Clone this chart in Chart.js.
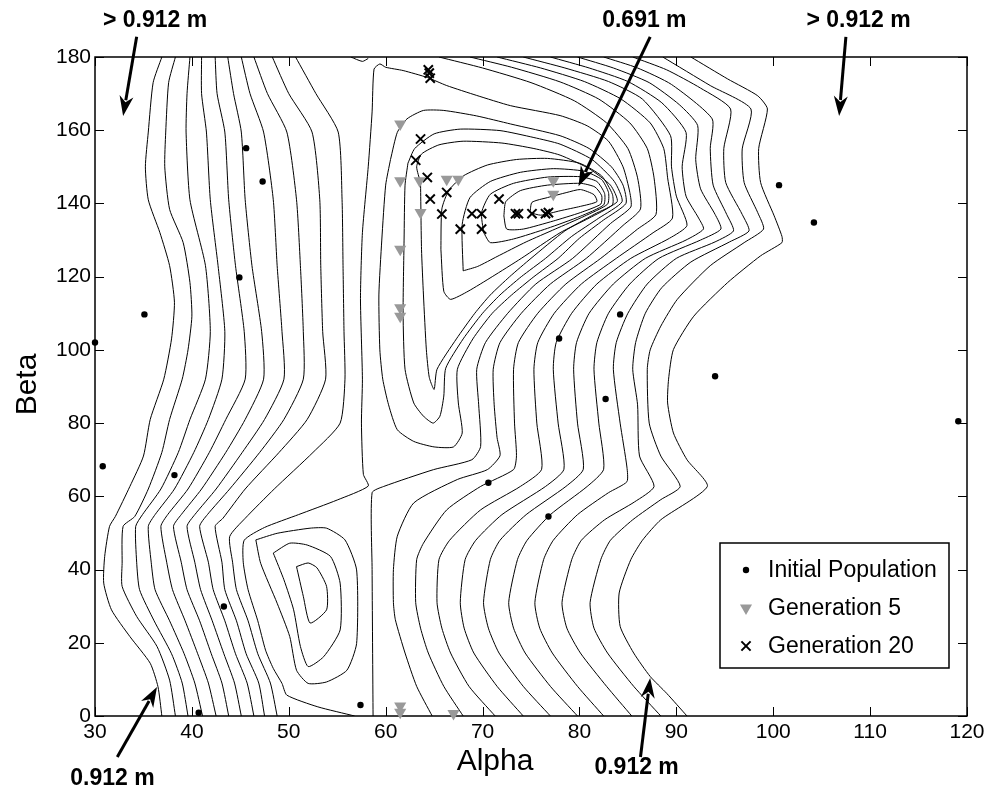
<!DOCTYPE html>
<html>
<head>
<meta charset="utf-8">
<script src="https://cdn.jsdelivr.net/npm/chart.js@4.4.1/dist/chart.umd.min.js"></script>
<style>
  html, body { margin: 0; padding: 0; background: #fff; }
</style>
</head>
<body>
<canvas id="contourChart" width="1003" height="795"></canvas>
<script>
const xTicks = [30, 40, 50, 60, 70, 80, 90, 100, 110, 120];
const yTicks = [0, 20, 40, 60, 80, 100, 120, 140, 160, 180];

// markers
const initialPopulation = [[45.6,155.1],[47.3,146],[44.9,119.8],[35.1,109.7],[30,102],[30.8,68.2],[38.2,65.8],[43.3,29.9],[40.7,0.9],[57.4,3],[82.7,86.6],[70.6,63.7],[76.8,54.5],[84.2,109.7],[77.9,103.1],[100.6,145],[104.2,134.8],[94,92.8],[119.1,80.5]];
const generation5 = [[61.5,161.7],[61.5,146.2],[63.5,146.2],[66.3,146.6],[67.5,146.6],[63.6,137.5],[61.5,127.5],[61.5,111.5],[61.5,109.2],[77.3,146.2],[77.3,142.5],[61.5,2.7],[61.5,1.0],[67,0.7]];
const generation20 = [[64.4,176.5],[64.5,175.6],[64.6,174.2],[63.6,157.6],[63.1,151.8],[64.3,147.1],[64.6,141.2],[66.3,143],[65.8,137.1],[67.7,133],[68.9,137.2],[69.9,137.2],[69.9,133],[71.7,141.2],[73.4,137.2],[73.7,137.2],[75.1,137.2],[76.5,137.2],[76.8,137.5]];

// contour lines, left family
const leftA = [[36.9,180],[36.0,173],[35.5,159.5],[35.2,150],[35.5,141],[36.7,132],[37.7,123],[38.2,113],[37.9,103],[37.1,92],[35.7,81],[35.0,71],[33.6,62.7],[32.1,54.5],[31.5,51.8],[31.0,43.6],[30.9,36.3],[31.7,29],[33.6,21.7],[35.7,14.4],[36.5,8],[36.9,0]];
const leftB = [[38.3,180],[37.6,173],[37.3,159.5],[37.2,150],[37.7,138.4],[39.1,129.3],[39.8,118.4],[40.0,109.2],[39.6,100],[39.0,92],[37.7,81],[36.9,72],[35.5,62],[34.1,54.5],[32.9,51.8],[32.8,41.7],[32.8,35.4],[34.3,27.2],[36.4,19],[37.7,9.8],[38.3,0]];
const leftC = [[39.8,180],[39.5,170],[39.4,159.5],[39.8,141],[41.4,123],[41.9,105],[41.4,92],[39.8,81],[38.6,72],[36.8,62],[34.9,55],[34.2,51.8],[34.3,42],[34.6,34.5],[36.1,26],[37.9,17],[39.0,9],[39.6,0]];
const leftD = [[41.0,180],[41.0,170],[41.5,159.5],[41.9,141],[42.7,123],[43.4,105],[43.1,92],[41.7,81],[40.2,72],[38.2,62],[36.2,55],[35.5,51.8],[35.8,42],[36.2,34.5],[37.7,26],[39.2,17],[40.3,9],[41.1,0]];
const leftE = [[42.4,180],[42.6,170],[43.4,159.5],[43.8,141],[44.5,123],[45.4,105],[45.5,92],[43.5,81],[41.8,72],[39.6,62],[37.5,55],[36.8,51.8],[37.4,42],[38.0,34.5],[39.3,26],[40.6,17],[41.7,9],[42.5,0]];
const leftF = [[43.7,180],[44.3,170],[45.1,159.5],[45.5,141],[46.2,123],[47.2,105],[47.4,92],[45.5,81],[43.5,72],[41.0,62],[38.9,55],[38.1,51.8],[38.9,42],[39.5,34.5],[40.8,26],[42.0,17],[43.1,9],[43.8,0]];
const leftG = [[45.1,180],[46.0,170],[47.4,159.5],[48.4,141],[48.8,123],[49.3,105],[49.5,92],[47.5,81],[45.2,72],[42.5,62],[40.3,55],[39.5,51.8],[40.3,42],[40.9,34.5],[42.1,26],[43.3,17],[44.4,9],[45.1,0]];
const leftH = [[46.4,180],[47.8,170],[49.8,159.5],[50.8,141],[51.2,123],[51.5,105],[51.5,92],[49.5,81],[47.0,72],[43.9,62],[41.6,55],[40.8,51.8],[41.7,42],[42.2,34.5],[43.4,26],[44.5,17],[45.7,9],[46.4,0]];
const leftI = [[48.3,180],[50.0,170],[52.4,159.5],[53.2,141],[53.3,123],[53.5,105],[53.8,92],[51.9,81],[49.0,72],[45.5,62],[43.2,54],[42.4,51.8],[43.1,42],[43.4,34.5],[44.6,26],[45.6,17],[46.9,9],[47.5,0]];
const leftJ = [[50.7,180],[52.8,170],[55.1,159.5],[55.5,141],[55.6,123],[55.7,105],[55.8,92],[55.3,80],[52.5,72],[48.5,62],[45.5,54],[43.9,49],[44.2,42],[44.6,34.5],[45.8,26],[46.8,17],[48.1,9],[48.8,0]];
const topWedge = [[56.4,180],[57.6,178.8],[58.2,179.6]];

// loops round the small minimum near (52, 32)
const lowLoop1 = [[50.8,40.8],[52.0,41.8],[52.9,40.5],[53.9,35.4],[53.9,29],[52.2,25.4],[51.5,32.7],[50.8,40.8]];
const lowLoop2 = [[48.4,44.5],[50.1,47.2],[51.9,46.7],[54.3,43.6],[55.3,36.3],[55.3,23.5],[53.6,16.2],[52.0,13.5],[51.2,19],[50.5,29],[49.5,37.2],[48.4,44.5]];
const lowLoop3 = [[46.6,48.1],[48.8,49.9],[52.2,51.3],[53.9,51.3],[55.8,48.1],[57.0,39.9],[57.0,19.8],[56.0,12.5],[53.9,9.3],[52.0,8.9],[50.8,12.5],[50.1,21.7],[48.8,30.8],[47.1,41.7],[46.6,48.1]];

// saddle contour
const saddle = [[56.8,0],[53,2.5],[49.8,5.7],[49.3,8.9],[48.4,13],[47.6,18],[46.8,26],[45.8,34.5],[45.3,42],[45.4,48],[47.5,51.5],[51,55],[55,59],[58.2,62.8],[57.7,66],[57.5,80],[57.6,92],[57.4,114],[57.6,132],[58.2,150],[58.6,165],[58.8,176.7],[59.4,178.1],[60.0,177.2],[61.8,176.3],[64.3,174.4],[66.3,172.2],[69.4,169.5],[72.9,166.7],[78.0,164],[80.8,161.2],[83.0,157],[84.5,150],[85.2,143],[85.3,139],[83.2,134.5],[79.3,125],[75.5,118],[72.6,110],[70.3,102],[69.4,94.7],[69.6,85],[69.8,73.6],[68.9,70],[64.95,67.3],[59.8,62.7],[58.6,61],[58.6,40],[58.7,0]];

// loops round the main minimum near (77, 140)
const loopL1 = [[60.5,152],[61.2,159.4],[62.2,163.1],[63.9,165.4],[66,165.4],[69.4,163.9],[72.9,161.7],[78,158.5],[81,155],[83.3,150],[84.5,145],[84.8,140],[82.5,135.5],[80,130.5],[77.8,125],[75.3,120],[73,115],[71,110],[69,103],[67.4,94.7],[67.5,85.5],[67.9,77.3],[67,73.5],[65,73.5],[62.9,75],[61.2,78.2],[60.3,85],[59.7,92],[59.4,100],[59.3,115],[59.6,130],[60,145],[60.5,152]];
const loopL2 = [[62.3,151],[63,155],[65,159],[67.7,160.3],[71.8,159.9],[75.3,158],[78,156.2],[81.3,152],[83.6,146],[84.4,140.5],[82,136],[79.2,131],[76.5,125],[74,120],[71.8,115],[70,110],[68,103],[66.2,95],[66,87.4],[65.6,81.9],[64.9,80],[63.9,81.9],[62.9,85.5],[62,94.7],[61.8,110],[61.9,130],[62,145],[62.3,151]];
const loopL3 = [[63.6,145.7],[63.2,150],[63.7,153.5],[65.5,156],[68,157],[72,156.5],[75.3,155],[78,153.2],[81,149.5],[83.2,145],[83.9,140.5],[81.5,137],[78.5,132.5],[75,125],[72.8,120],[70.8,115],[69.2,110],[67.3,103],[65.3,94.7],[65,89.2],[64.5,92.5],[64.2,100],[63.9,115],[63.7,127.5],[63.6,145.7]];
const loopL4 = [[65.7,127.5],[65.8,138.5],[66.5,143.5],[68,147.5],[70.5,150.5],[73.5,152],[76.7,152.3],[80,151],[82.3,147.5],[83.4,142.5],[83.4,139.6],[81,136],[78,132],[74,125],[71,120],[68.5,116],[66.7,113.8],[66,116],[65.7,127.5]];
const loopL5 = [[68,121.6],[67.9,134.3],[68.7,141.6],[70.8,146],[73.9,148.5],[77.3,149.5],[80.5,148.8],[82.3,146.5],[83,143],[82.9,139.8],[80.5,136.5],[77.5,133],[74.5,129.5],[71.5,125.5],[69.5,122.8],[68,121.6]];
const loopL6 = [[70.1,132.1],[69.9,137.5],[70.8,142.5],[73.2,145.5],[76.7,147.2],[80.1,147.3],[81.8,146],[82.6,142.7],[82.5,139.6],[80.1,136.5],[76.7,133.2],[73.2,130.3],[70.8,129.3],[70.1,132.1]];
const loopL7 = [[72.2,136.6],[72.4,140.5],[73.9,143.5],[76.7,145],[80.1,145.5],[81.6,144.5],[82.3,142.1],[82.2,139.8],[80.1,137.5],[77.3,135.2],[74.2,133],[72.5,133],[72.2,136.6]];
const loopL8 = [[74.9,137.5],[75.1,140.3],[76.7,141.6],[78.7,143],[80.1,143.8],[81.5,142.4],[81.8,140.5],[80.1,139.2],[78,138],[76,136.8],[74.9,137.5]];

// right family: top edge -> round the minimum -> bottom edge
const rightC1 = [[65.5,180],[70,177],[75,173],[79.5,168],[82.8,162],[85,155],[86,147],[86.3,138.5],[84.5,134],[80.7,125],[77,118],[74,110],[71.8,102],[71.1,94.7],[71.2,85],[71.5,76],[71.8,71.1],[70.5,67.3],[67.4,64.6],[62.9,58.2],[61.2,49.1],[60.8,40],[60.8,31],[61.0,26.3],[62.0,17.2],[63.2,8.1],[64.8,0]];
const rightC2 = [[68.7,180],[73,177.2],[78,173.2],[82,168.5],[85.2,162],[87,155],[87.7,147],[87.9,137],[86,133],[82.2,125],[78.6,118],[75.7,110],[73.7,102],[73.2,94.7],[73.3,80],[73.5,71.1],[73.2,67.3],[69.8,62.7],[66.3,56.3],[63.9,47.2],[63.2,42.7],[63.1,31],[63.6,24],[64.4,17.2],[66,8.1],[68,0]];
const rightC3 = [[71.5,180],[76,177],[80.5,173.3],[84.3,168.5],[87.3,162],[88.7,155],[89.1,147],[89.6,136],[87.6,132],[83.8,125],[80.2,118],[77.4,110],[75.7,102],[75.3,94.7],[75.6,80],[76.1,67.4],[73.9,62.7],[69.8,56.3],[66.6,48],[65.5,42.7],[65.3,31],[65.8,24],[66.7,17.2],[68.6,8.1],[71.3,0]];
const rightC4 = [[74.2,180],[78.5,177],[83,173.3],[86.5,168.5],[89.4,158.5],[89.5,150],[90,142],[91.1,134],[89.3,130.5],[85.3,125],[81.8,118],[79.2,110],[77.6,102],[77.3,94.7],[77.8,80],[78.4,67.4],[76.5,62.7],[72.0,55],[69.3,48],[68.2,42.7],[67.7,31],[68.1,24],[69.1,17.2],[71.5,8.1],[74.2,0]];
const rightC5 = [[77,180],[81,177],[85,173.3],[88.5,167.5],[91,159.4],[90.6,150],[91,142],[92.3,136],[92.8,133],[91,130],[86.8,125],[83.5,118],[81,110],[79.7,102],[79.4,94.7],[79.8,80],[80.4,67.4],[78.6,62.7],[74.5,55],[71.8,48],[70.8,42.7],[70.1,31],[70.6,24],[71.7,17.2],[74.2,8.1],[77,0]];
const rightC6 = [[79.8,180],[83.5,177],[87.2,173],[90.3,167],[92.2,161.3],[92,152],[92.5,144],[94,137],[94.6,133],[92.5,130],[88.2,125],[85.2,118],[83,110],[81.8,102],[81.5,94.7],[82,80],[82.5,67.4],[80.8,62.7],[77,55],[74.6,48],[73.6,42.7],[72.7,31],[73.2,24],[74.4,17.2],[77,8.1],[79.8,0]];
const rightC7 = [[82.5,180],[86,177],[89.5,172.5],[93.7,163.1],[93.5,155],[93.8,145],[95.2,137],[95.9,132.5],[94,129.5],[90,125],[87,118],[85,110],[83.8,102],[83.5,94.7],[84.2,80],[84.9,68],[84.9,64],[83,61],[79.8,55],[77.3,48],[76.3,42.7],[75.4,31],[75.9,24],[77.2,17.2],[79.8,8.1],[82.5,0]];
const rightC8 = [[85.5,180],[89,176.5],[92.5,171.5],[95.6,165.8],[94.9,155],[95.1,145.7],[96.8,137],[97.5,132.5],[95.5,129.5],[91.5,124],[88.5,117],[86.8,110],[85.8,102],[85.5,94.7],[86,85],[86.2,71],[87.7,62.7],[85.7,58.5],[82.6,53.6],[80.2,48],[79.2,42.7],[78.2,31],[78.7,24],[80.1,17.2],[82.8,8.1],[85.4,0]];
const rightC9 = [[88.6,180],[93.5,172.2],[97.7,165.8],[96.8,154.9],[97,145.7],[98.4,137.5],[99,133],[97,129.3],[93.5,123],[90.1,113.8],[88.4,106.5],[87.3,100],[87,94.7],[87.2,80],[88.4,71],[90.4,62.7],[88.4,59.1],[85.5,53.6],[83.2,48],[82.2,42.7],[81.1,31],[81.5,24],[82.9,17.2],[85.6,8.1],[88.4,0]];
const rightC10 = [[91.5,180],[95.3,174],[98.4,169.4],[99.4,165.8],[98.5,155],[98.7,145.7],[100.1,136.6],[100.9,131],[100.9,129.3],[98.7,125.7],[95.3,118.4],[91.8,109.2],[89.7,100.1],[89.2,92],[89.1,85.5],[89.7,77.3],[91.1,70],[93.2,62.7],[88.4,53.6],[86.5,48],[85.3,42.7],[84.1,33.6],[84.2,24.5],[85.6,17.2],[87.3,10.8],[89.0,6.2],[91.1,0]];

const contourLines = [leftA, leftB, leftC, leftD, leftE, leftF, leftG, leftH, leftI, leftJ, topWedge,
  lowLoop1, lowLoop2, lowLoop3, saddle,
  loopL1, loopL2, loopL3, loopL4, loopL5, loopL6, loopL7, loopL8,
  rightC1, rightC2, rightC3, rightC4, rightC5, rightC6, rightC7, rightC8, rightC9, rightC10];

// annotations (data units)
const noteLabels = ['> 0.912 m', '0.691 m', '> 0.912 m', '0.912 m', '0.912 m'];
const noteText = [[36.2,189.9],[86.7,189.9],[108.8,189.9],[31.8,-17],[85.9,-14.2]];
const noteTail = [[34.3,185.5],[87.3,185.5],[107.5,185.5],[32.3,-11.2],[86.3,-11.2]];
const noteTip = [[32.9,163.9],[79.9,144.7],[106.8,163.9],[36.4,7.9],[87.3,10.4]];

const legendLabels = ['Initial Population', 'Generation 5', 'Generation 20'];

const FONT = '"Liberation Sans", Arial, Helvetica, sans-serif';
const toXY = arr => arr.map(p => ({ x: p[0], y: p[1] }));

const markerSets = [
	{
		label: legendLabels[0],
		data: toXY(initialPopulation),
		pointStyle: 'circle',
		pointRadius: 3.2,
		backgroundColor: '#000',
		borderColor: '#000',
		borderWidth: 0,
		clip: false,
	},
	{
		label: legendLabels[1],
		data: toXY(generation5),
		pointStyle: 'triangle',
		rotation: 180,
		pointRadius: 7,
		backgroundColor: '#999',
		borderColor: '#999',
		borderWidth: 0,
		clip: false,
	},
	{
		label: legendLabels[2],
		data: toXY(generation20),
		pointStyle: 'crossRot',
		pointRadius: 6.5,
		backgroundColor: '#000',
		borderColor: '#000',
		borderWidth: 2,
		clip: false,
	},
];

const lineSets = contourLines.map(line => ({
	label: '',
	data: toXY(line),
	showLine: true,
	pointRadius: 0,
	borderColor: '#000',
	borderWidth: 1,
	tension: 0.2,
	fill: false,
}));

function arrow(ctx, x1, y1, x2, y2) {
	const ang = Math.atan2(y2 - y1, x2 - x1);
	const head = 20;
	const wing = 7;
	const bx = x2 - head * Math.cos(ang);
	const by = y2 - head * Math.sin(ang);
	ctx.lineWidth = 3;
	ctx.beginPath();
	ctx.moveTo(x1, y1);
	ctx.lineTo(bx + 4 * Math.cos(ang), by + 4 * Math.sin(ang));
	ctx.stroke();
	ctx.beginPath();
	ctx.moveTo(x2, y2);
	ctx.lineTo(bx - wing * Math.sin(ang), by + wing * Math.cos(ang));
	ctx.lineTo(bx + 6 * Math.cos(ang), by + 6 * Math.sin(ang));
	ctx.lineTo(bx + wing * Math.sin(ang), by - wing * Math.cos(ang));
	ctx.closePath();
	ctx.fill();
}

const framePlugin = {
	id: 'frame',
	beforeDatasetsDraw(chart) {
		const { ctx, chartArea: a, scales: { x, y } } = chart;
		ctx.save();
		ctx.strokeStyle = '#000';
		ctx.lineWidth = 1;
		ctx.beginPath();
		xTicks.forEach(v => {
			const px = Math.round(x.getPixelForValue(v)) + 0.5;
			ctx.moveTo(px, a.bottom); ctx.lineTo(px, a.bottom - 9);
			ctx.moveTo(px, a.top); ctx.lineTo(px, a.top + 9);
		});
		yTicks.forEach(v => {
			const py = Math.round(y.getPixelForValue(v)) + 0.5;
			ctx.moveTo(a.left, py); ctx.lineTo(a.left + 9, py);
			ctx.moveTo(a.right, py); ctx.lineTo(a.right - 9, py);
		});
		ctx.stroke();
		ctx.lineWidth = 1.5;
		ctx.strokeRect(a.left, a.top, a.right - a.left, a.bottom - a.top);
		ctx.restore();
	},
	afterDraw(chart) {
		const { ctx, chartArea: a, scales: { x, y } } = chart;
		ctx.save();
		ctx.fillStyle = '#000';
		ctx.strokeStyle = '#000';

		// axis titles
		ctx.font = '30px ' + FONT;
		ctx.textAlign = 'center';
		ctx.textBaseline = 'middle';
		ctx.fillText('Alpha', (a.left + a.right) / 2 - 36, a.bottom + 46);
		ctx.save();
		ctx.translate(28, (a.top + a.bottom) / 2 - 2);
		ctx.rotate(-Math.PI / 2);
		ctx.fillText('Beta', 0, 0);
		ctx.restore();

		// annotations
		ctx.font = 'bold 23px ' + FONT;
		noteLabels.forEach((t, i) => {
			ctx.fillText(t, x.getPixelForValue(noteText[i][0]), y.getPixelForValue(noteText[i][1]));
			arrow(ctx,
				x.getPixelForValue(noteTail[i][0]), y.getPixelForValue(noteTail[i][1]),
				x.getPixelForValue(noteTip[i][0]), y.getPixelForValue(noteTip[i][1]));
		});

		// legend
		const w = 229, h = 125;
		const lx = a.right - 18 - w, ly = a.bottom - 48 - h;
		ctx.fillStyle = '#fff';
		ctx.fillRect(lx, ly, w, h);
		ctx.lineWidth = 1.5;
		ctx.strokeRect(lx, ly, w, h);
		ctx.font = '23px ' + FONT;
		ctx.textAlign = 'left';
		legendLabels.forEach((t, i) => {
			const ry = ly + 27 + i * 38;
			const ds = markerSets[i];
			ctx.fillStyle = ds.backgroundColor;
			ctx.strokeStyle = ds.borderColor;
			ctx.lineWidth = ds.borderWidth;
			Chart.helpers.drawPoint(ctx, {
				pointStyle: ds.pointStyle,
				rotation: ds.rotation || 0,
				radius: ds.pointRadius,
				borderWidth: ds.borderWidth,
			}, lx + 26, ry);
			ctx.fillStyle = '#000';
			ctx.fillText(t, lx + 48, ry + 1);
		});
		ctx.restore();
	},
};

new Chart(document.getElementById('contourChart'), {
	type: 'scatter',
	data: { datasets: [...markerSets, ...lineSets] },
	options: {
		responsive: false,
		animation: false,
		events: [],
		layout: { padding: { top: 57, right: 36, left: 0, bottom: 0 } },
		scales: {
			x: {
				type: 'linear',
				min: 30,
				max: 120,
				afterBuildTicks: s => { s.ticks = xTicks.map(v => ({ value: v })); },
				afterFit: s => { s.height = 79; },
				grid: { display: false, drawTicks: false },
				border: { display: false },
				ticks: { color: '#000', padding: 4, maxRotation: 0, font: { family: FONT, size: 21 } },
			},
			y: {
				type: 'linear',
				min: 0,
				max: 180,
				afterBuildTicks: s => { s.ticks = yTicks.map(v => ({ value: v })); },
				afterFit: s => { s.width = 95; },
				grid: { display: false, drawTicks: false },
				border: { display: false },
				ticks: { color: '#000', padding: 4, font: { family: FONT, size: 21 } },
			},
		},
		plugins: {
			legend: { display: false },
			tooltip: { enabled: false },
		},
	},
	plugins: [framePlugin],
});
</script>
</body>
</html>
